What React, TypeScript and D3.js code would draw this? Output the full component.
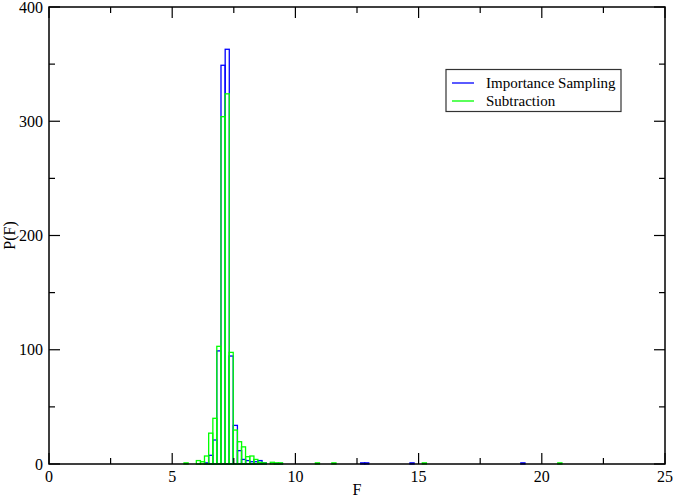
import React from "react";
import * as d3 from "d3";

// Histogram bin left edges (F values) and counts
const binWidth = 0.1667;
const binLeft = [5.48, 5.98, 6.15, 6.31, 6.48, 6.65, 6.81, 6.98, 7.15, 7.31, 7.48, 7.65, 7.81, 7.98, 8.15, 8.31, 8.48, 8.65, 8.81, 8.98, 9.15, 9.31, 10.81, 11.48, 12.65, 12.81, 14.65, 15.15, 19.15, 20.65];
const importanceSampling = [0, 0, 0, 1, 7.6, 21, 99, 349, 363, 94.5, 33.8, 11.7, 4, 3, 2, 2, 3, 1, 0, 0, 0.5, 0.5, 0, 0, 1, 1, 1, 0, 1, 0];
const subtraction = [1, 3, 2, 7, 27, 40, 103, 304, 324, 97.7, 29.7, 19.5, 15, 6.4, 7, 4, 1.5, 1, 0, 1.5, 1, 1, 1, 1, 0, 0, 0, 1, 0, 1];
const xTicks = [0, 5, 10, 15, 20, 25];
const xMinor = [2.5, 7.5, 12.5, 17.5, 22.5];
const yTicks = [0, 100, 200, 300, 400];
const yMinor = [50, 150, 250, 350];
const seriesNames = ["Importance Sampling", "Subtraction"];
const seriesColors = ["#0000ff", "#00ff00"];

export default function App() {
  const W = 675, H = 498;
  const L = 49, R = 665, T = 7, B = 464;
  const x = d3.scaleLinear().domain([0, 25]).range([L, R]);
  const y = d3.scaleLinear().domain([0, 400]).range([B, T]);
  const font = "'Liberation Serif', 'Times New Roman', serif";
  const series = [importanceSampling, subtraction];

  return (
    <svg width={W} height={H} style={{ position: "absolute", left: 0, top: 0 }}>
      <rect x={0} y={0} width={W} height={H} fill="#fff" />
      {series.map((vals, si) => (
        <g key={si}>
          {binLeft.map((b, i) => {
            const v = vals[i];
            if (!v) return null;
            const x0 = x(b), x1 = x(b + binWidth);
            return (
              <rect key={i} x={x0} y={y(v)} width={x1 - x0} height={y(0) - y(v)}
                fill="none" stroke={seriesColors[si]} strokeWidth={1.3} />
            );
          })}
        </g>
      ))}
      {/* frame */}
      <rect x={L} y={T} width={R - L} height={B - T} fill="none" stroke="#000" strokeWidth={1.5} />
      {/* x ticks */}
      {xTicks.map((t) => (
        <g key={"xt" + t}>
          <line x1={x(t)} x2={x(t)} y1={B} y2={B - 11} stroke="#000" strokeWidth={1.2} />
          <line x1={x(t)} x2={x(t)} y1={T} y2={T + 11} stroke="#000" strokeWidth={1.2} />
          <text x={x(t)} y={482} textAnchor="middle" fontFamily={font} fontSize={16}>{t}</text>
        </g>
      ))}
      {xMinor.map((t) => (
        <g key={"xm" + t}>
          <line x1={x(t)} x2={x(t)} y1={B} y2={B - 6} stroke="#000" strokeWidth={1.2} />
          <line x1={x(t)} x2={x(t)} y1={T} y2={T + 6} stroke="#000" strokeWidth={1.2} />
        </g>
      ))}
      {yTicks.map((t) => (
        <g key={"yt" + t}>
          <line x1={L} x2={L + 11} y1={y(t)} y2={y(t)} stroke="#000" strokeWidth={1.2} />
          <line x1={R} x2={R - 11} y1={y(t)} y2={y(t)} stroke="#000" strokeWidth={1.2} />
          <text x={43} y={y(t) + 5.5} textAnchor="end" fontFamily={font} fontSize={16}>{t}</text>
        </g>
      ))}
      {yMinor.map((t) => (
        <g key={"ym" + t}>
          <line x1={L} x2={L + 6} y1={y(t)} y2={y(t)} stroke="#000" strokeWidth={1.2} />
          <line x1={R} x2={R - 6} y1={y(t)} y2={y(t)} stroke="#000" strokeWidth={1.2} />
        </g>
      ))}
      <text x={(L + R) / 2} y={495} textAnchor="middle" fontFamily={font} fontSize={16}>F</text>
      <text transform={`translate(15,${(T + B) / 2}) rotate(-90)`} textAnchor="middle" fontFamily={font} fontSize={16}>P(F)</text>
      {/* legend */}
      <rect x={446} y={69.5} width={175} height={42} fill="#fff" stroke="#333" strokeWidth={1.2} />
      {seriesNames.map((n, i) => (
        <g key={n}>
          <line x1={452} x2={474} y1={83 + i * 18} y2={83 + i * 18} stroke={seriesColors[i]} strokeWidth={1.3} />
          <text x={486} y={88 + i * 18} fontFamily={font} fontSize={15}>{n}</text>
        </g>
      ))}
    </svg>
  );
}
